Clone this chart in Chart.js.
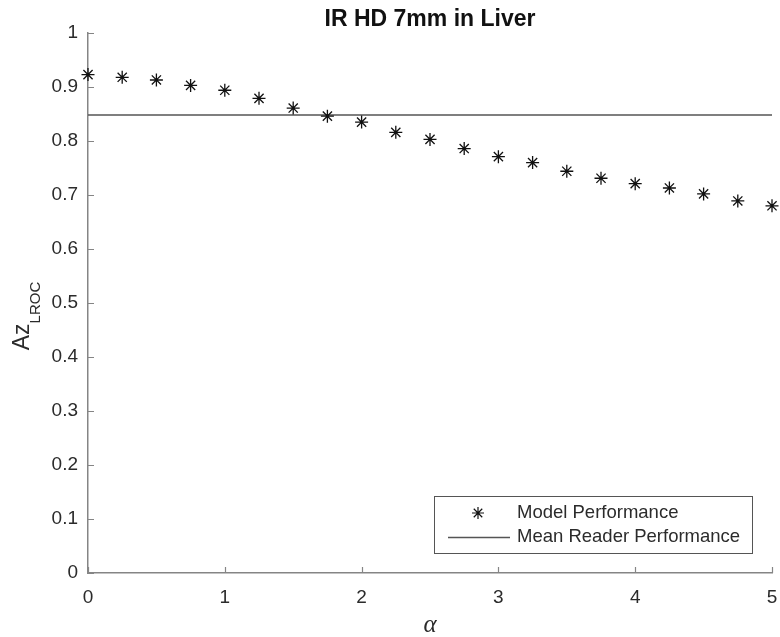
<!DOCTYPE html>
<html>
<head>
<meta charset="utf-8">
<title>IR HD 7mm in Liver</title>
<script src="https://cdn.jsdelivr.net/npm/chart.js@4/dist/chart.umd.min.js"></script>
<style>
  html, body { margin: 0; padding: 0; background: #ffffff; }
  #chart { display: block; }
</style>
</head>
<body>
<canvas id="chart" width="780" height="637"></canvas>
<script>
// alpha values on the x axis
const alphaValues = [0, 0.25, 0.5, 0.75, 1, 1.25, 1.5, 1.75, 2, 2.25, 2.5,
                     2.75, 3, 3.25, 3.5, 3.75, 4, 4.25, 4.5, 4.75, 5];
// model Az_LROC at each alpha
const modelAz = [0.923, 0.918, 0.913, 0.903, 0.894, 0.879, 0.861, 0.846, 0.835, 0.816, 0.803,
                 0.786, 0.771, 0.760, 0.744, 0.731, 0.721, 0.713, 0.702, 0.689, 0.680];
// mean reader performance (flat reference line)
const readerAlpha = [0, 5];
const readerAz = [0.848, 0.848];

const xTicks = [0, 1, 2, 3, 4, 5];
const yTicks = [0, 0.1, 0.2, 0.3, 0.4, 0.5, 0.6, 0.7, 0.8, 0.9, 1];

const titleText = 'IR HD 7mm in Liver';
const legendLabels = ['Model Performance', 'Mean Reader Performance'];

const textColor = '#2b2b2b';
const axisColor = '#858585';
const FONT = '"Liberation Sans", Arial, sans-serif';

function drawStar(ctx, x, y, r) {
    ctx.beginPath();
    for (let i = 0; i < 4; i++) {
        const a = i * Math.PI / 4;
        ctx.moveTo(x - r * Math.cos(a), y - r * Math.sin(a));
        ctx.lineTo(x + r * Math.cos(a), y + r * Math.sin(a));
    }
    ctx.stroke();
}

// ticks pointing inward, titles and the boxed legend, MATLAB style
const decorPlugin = {
    id: 'decor',
    afterDraw(chart) {
        const ctx = chart.ctx;
        const xs = chart.scales.x;
        const ys = chart.scales.y;
        const area = chart.chartArea;
        ctx.save();

        // inward tick marks
        ctx.strokeStyle = axisColor;
        ctx.lineWidth = 1.2;
        ctx.beginPath();
        xTicks.forEach(v => {
            const px = Math.round(xs.getPixelForValue(v)) + 0.5;
            ctx.moveTo(px, area.bottom);
            ctx.lineTo(px, area.bottom - 6);
        });
        yTicks.forEach(v => {
            const py = Math.round(ys.getPixelForValue(v)) + 0.5;
            ctx.moveTo(area.left, py);
            ctx.lineTo(area.left + 6, py);
        });
        ctx.stroke();

        // title
        ctx.fillStyle = '#111';
        ctx.font = 'bold 23px ' + FONT;
        ctx.textAlign = 'center';
        ctx.textBaseline = 'middle';
        ctx.fillText(titleText, (area.left + area.right) / 2, 20);

        // x axis title (alpha)
        ctx.fillStyle = textColor;
        ctx.font = 'italic 25px "Liberation Serif", "DejaVu Serif", serif';
        ctx.fillText('\u03b1', (area.left + area.right) / 2, 625);

        // y axis title Az with subscript LROC
        ctx.save();
        ctx.translate(29, 316);
        ctx.rotate(-Math.PI / 2);
        ctx.textBaseline = 'alphabetic';
        ctx.textAlign = 'left';
        ctx.font = '23px ' + FONT;
        const azW = ctx.measureText('Az').width;
        ctx.font = '15px ' + FONT;
        const subW = ctx.measureText('LROC').width;
        const start = -(azW + subW) / 2;
        ctx.font = '23px ' + FONT;
        ctx.fillText('Az', start, 0);
        ctx.font = '15px ' + FONT;
        ctx.fillText('LROC', start + azW, 11);
        ctx.restore();

        // legend box
        const bx = 434.5, by = 496.5, bw = 318, bh = 57;
        ctx.fillStyle = '#ffffff';
        ctx.fillRect(bx, by, bw, bh);
        ctx.strokeStyle = '#555';
        ctx.lineWidth = 1;
        ctx.strokeRect(bx, by, bw, bh);

        ctx.strokeStyle = '#111';
        ctx.lineWidth = 1.2;
        drawStar(ctx, 478, 513, 6);
        ctx.strokeStyle = '#555';
        ctx.lineWidth = 1.5;
        ctx.beginPath();
        ctx.moveTo(448, 537.5);
        ctx.lineTo(510, 537.5);
        ctx.stroke();

        ctx.fillStyle = textColor;
        ctx.font = '18.5px ' + FONT;
        ctx.textAlign = 'left';
        ctx.textBaseline = 'middle';
        ctx.fillText(legendLabels[0], 517, 513);
        ctx.fillText(legendLabels[1], 517, 537);

        ctx.restore();
    }
};

const ctx = document.getElementById('chart').getContext('2d');
const chart = new Chart(ctx, {
    type: 'scatter',
    data: {
        datasets: [
            {
                label: legendLabels[0],
                data: alphaValues.map((a, i) => ({ x: a, y: modelAz[i] })),
                showLine: false,
                pointStyle: 'star',
                pointRadius: 6.5,
                borderColor: '#111111',
                backgroundColor: '#111111',
                pointBorderWidth: 1.3,
                clip: false,
                order: 1
            },
            {
                label: legendLabels[1],
                type: 'line',
                data: readerAlpha.map((a, i) => ({ x: a, y: readerAz[i] })),
                borderColor: '#555555',
                borderWidth: 1.5,
                pointRadius: 0,
                fill: false,
                order: 2
            }
        ]
    },
    options: {
        responsive: false,
        animation: false,
        layout: {
            padding: { left: 0, right: 8, top: 33, bottom: 0 }
        },
        plugins: {
            legend: { display: false },
            title: { display: false },
            tooltip: { enabled: false }
        },
        scales: {
            x: {
                type: 'linear',
                min: 0,
                max: 5,
                afterFit(scale) {
                    scale.height = 64;
                    scale.paddingLeft = 0;
                    scale.paddingRight = 0;
                },
                afterBuildTicks(scale) { scale.ticks = xTicks.map(v => ({ value: v })); },
                grid: { display: false, drawTicks: false, tickLength: 0 },
                border: { display: true, color: axisColor, width: 1.5 },
                ticks: {
                    color: textColor,
                    font: { family: FONT, size: 19 },
                    padding: 13,
                    maxRotation: 0,
                    callback: v => String(v)
                }
            },
            y: {
                type: 'linear',
                min: 0,
                max: 1,
                afterFit(scale) {
                    scale.width = 88;
                    scale.paddingTop = 0;
                    scale.paddingBottom = 0;
                },
                afterBuildTicks(scale) { scale.ticks = yTicks.map(v => ({ value: v })); },
                grid: { display: false, drawTicks: false, tickLength: 0 },
                border: { display: true, color: axisColor, width: 1.5 },
                ticks: {
                    color: textColor,
                    font: { family: FONT, size: 19 },
                    padding: 10,
                    callback: v => String(v)
                }
            }
        }
    },
    plugins: [decorPlugin]
});
</script>
</body>
</html>
